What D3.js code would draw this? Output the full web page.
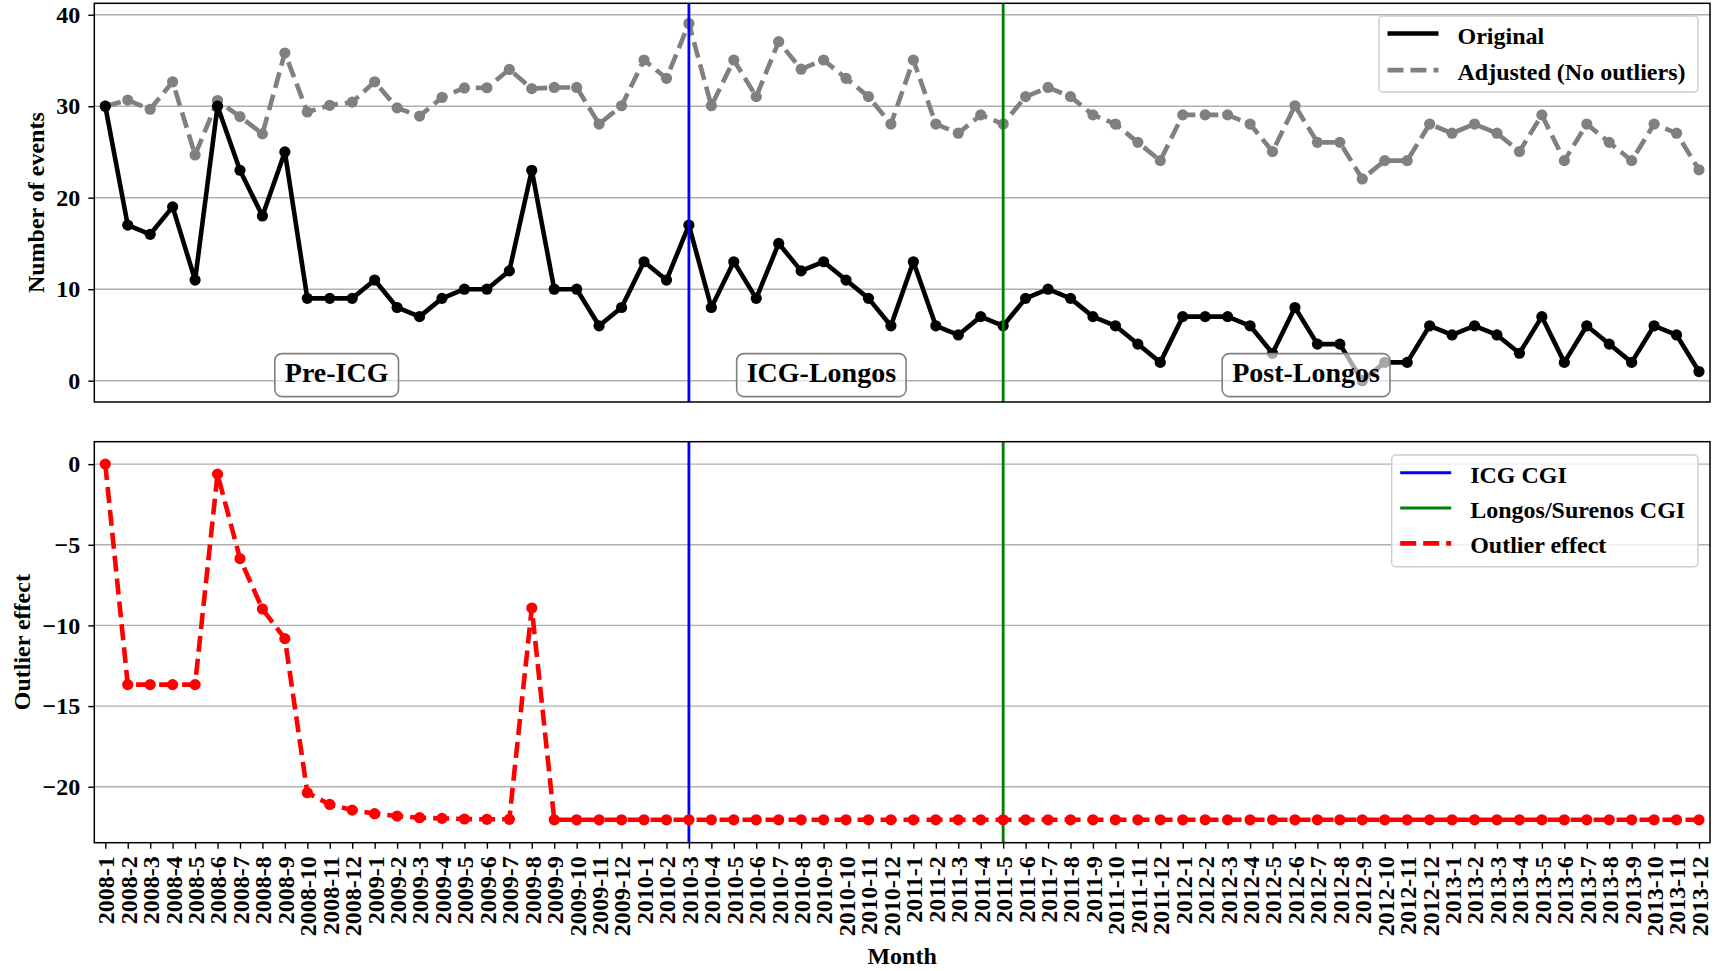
<!DOCTYPE html>
<html>
<head>
<meta charset="utf-8">
<script src="https://cdn.jsdelivr.net/npm/d3@7"></script>
<style>
  html, body { margin: 0; padding: 0; background: #ffffff; }
  svg text { font-family: "Liberation Serif", "Times New Roman", serif; font-weight: bold; fill: #000; }
</style>
</head>
<body>
<svg id="chart" width="1719" height="971"></svg>
<script>
// Monthly series, 2008-1 .. 2013-12
const months = [
  "2008-1","2008-2","2008-3","2008-4","2008-5","2008-6","2008-7","2008-8","2008-9","2008-10","2008-11","2008-12",
  "2009-1","2009-2","2009-3","2009-4","2009-5","2009-6","2009-7","2009-8","2009-9","2009-10","2009-11","2009-12",
  "2010-1","2010-2","2010-3","2010-4","2010-5","2010-6","2010-7","2010-8","2010-9","2010-10","2010-11","2010-12",
  "2011-1","2011-2","2011-3","2011-4","2011-5","2011-6","2011-7","2011-8","2011-9","2011-10","2011-11","2011-12",
  "2012-1","2012-2","2012-3","2012-4","2012-5","2012-6","2012-7","2012-8","2012-9","2012-10","2012-11","2012-12",
  "2013-1","2013-2","2013-3","2013-4","2013-5","2013-6","2013-7","2013-8","2013-9","2013-10","2013-11","2013-12"
];

const original = [
  30, 17, 16, 19, 11, 30, 23, 18, 25, 9, 9, 9,
  11, 8, 7, 9, 10, 10, 12, 23, 10, 10, 6, 8,
  13, 11, 17, 8, 13, 9, 15, 12, 13, 11, 9, 6,
  13, 6, 5, 7, 6, 9, 10, 9, 7, 6, 4, 2,
  7, 7, 7, 6, 3, 8, 4, 4, 0, 2, 2, 6,
  5, 6, 5, 3, 7, 2, 6, 4, 2, 6, 5, 1
];

const adjusted = [
  30, 30.67, 29.67, 32.67, 24.67, 30.62, 28.86, 26.98, 35.82, 29.37, 30.1, 30.45,
  32.67, 29.82, 28.92, 30.96, 32, 32.02, 34.02, 31.92, 32.05, 32.05, 28.05, 30.05,
  35.05, 33.05, 39.05, 30.05, 35.05, 31.05, 37.05, 34.05, 35.05, 33.05, 31.05, 28.05,
  35.05, 28.05, 27.05, 29.05, 28.05, 31.05, 32.05, 31.05, 29.05, 28.05, 26.05, 24.05,
  29.05, 29.05, 29.05, 28.05, 25.05, 30.05, 26.05, 26.05, 22.05, 24.05, 24.05, 28.05,
  27.05, 28.05, 27.05, 25.05, 29.05, 24.05, 28.05, 26.05, 24.05, 28.05, 27.05, 23.05
];

const outlierEffect = [
  0, -13.67, -13.67, -13.67, -13.67, -0.62, -5.86, -8.98, -10.82, -20.37, -21.1, -21.45,
  -21.67, -21.82, -21.92, -21.96, -22.0, -22.02, -22.02, -8.92, -22.05, -22.05, -22.05, -22.05,
  -22.05, -22.05, -22.05, -22.05, -22.05, -22.05, -22.05, -22.05, -22.05, -22.05, -22.05, -22.05,
  -22.05, -22.05, -22.05, -22.05, -22.05, -22.05, -22.05, -22.05, -22.05, -22.05, -22.05, -22.05,
  -22.05, -22.05, -22.05, -22.05, -22.05, -22.05, -22.05, -22.05, -22.05, -22.05, -22.05, -22.05,
  -22.05, -22.05, -22.05, -22.05, -22.05, -22.05, -22.05, -22.05, -22.05, -22.05, -22.05, -22.05
];

const eventTicks = [0, 10, 20, 30, 40];
const effectTicks = [0, -5, -10, -15, -20];

const interventions = [
  { label: "ICG CGI", month: "2010-3", color: "#0000ff" },
  { label: "Longos/Surenos CGI", month: "2011-5", color: "#008000" }
];

const periods = ["Pre-ICG", "ICG-Longos", "Post-Longos"];

// ---------- layout ----------
const svg = d3.select("#chart");
const L = 94.3, R = 1710;
const topP = { t: 3.3, b: 402 };
const botP = { t: 441.7, b: 842.7 };
const FS = 24;
const LW = 4.6;      // series line width
const MR = 5.6;      // marker radius

const x = d3.scalePoint().domain(months).range([L, R]).padding(0.49);
const yTop = d3.scaleLinear().domain([-2.33, 41.25]).range([topP.b, topP.t]);
const yBot = d3.scaleLinear().domain([-23.47, 1.39]).range([botP.b, botP.t]);

const DASH = "16,7";

function grid(g, y, ticks) {
  g.append("g").selectAll("line").data(ticks).join("line")
    .attr("x1", L).attr("x2", R)
    .attr("y1", d => y(d)).attr("y2", d => y(d))
    .attr("stroke", "#b0b0b0").attr("stroke-width", 1.4);
}

function yAxis(g, y, ticks) {
  const ax = g.append("g").attr("transform", `translate(${L},0)`)
    .call(d3.axisLeft(y).tickValues(ticks).tickSize(6).tickPadding(8).tickFormat(d3.format("d")));
  ax.select(".domain").remove();
  ax.attr("font-family", null).attr("font-size", null);
  ax.selectAll(".tick line").attr("stroke", "#000").attr("stroke-width", 1.4);
  ax.selectAll(".tick text").style("font-size", FS + "px");
}

function series(g, y, values, color, dashed) {
  const line = d3.line().x((d, i) => x(months[i])).y(d => y(d));
  g.append("path").datum(values)
    .attr("d", line)
    .attr("fill", "none")
    .attr("stroke", color)
    .attr("stroke-width", LW)
    .attr("stroke-linejoin", "round")
    .attr("stroke-dasharray", dashed ? DASH : null);
  g.append("g").selectAll("circle").data(values).join("circle")
    .attr("cx", (d, i) => x(months[i]))
    .attr("cy", d => y(d))
    .attr("r", MR)
    .attr("fill", color);
}

function vlines(g, p) {
  g.append("g").selectAll("line").data(interventions).join("line")
    .attr("x1", d => x(d.month)).attr("x2", d => x(d.month))
    .attr("y1", p.t).attr("y2", p.b)
    .attr("stroke", d => d.color).attr("stroke-width", 2.8);
}

function frame(g, p) {
  g.append("rect").attr("x", L).attr("y", p.t)
    .attr("width", R - L).attr("height", p.b - p.t)
    .attr("fill", "none").attr("stroke", "#000").attr("stroke-width", 1.5);
}

function legend(g, box, items) {
  g.append("rect").attr("x", box.x).attr("y", box.y)
    .attr("width", box.w).attr("height", box.h)
    .attr("rx", 4).attr("fill", "#fff").attr("fill-opacity", 0.8)
    .attr("stroke", "#cccccc").attr("stroke-width", 1.4);
  items.forEach((it, i) => {
    const ly = box.first + i * box.step;
    g.append("line")
      .attr("x1", box.x + 8.5).attr("x2", box.x + 59.5)
      .attr("y1", ly).attr("y2", ly)
      .attr("stroke", it.color).attr("stroke-width", it.width)
      .attr("stroke-dasharray", it.dashed ? DASH : null);
    g.append("text")
      .attr("x", box.x + 78.5).attr("y", ly + 10)
      .style("font-size", FS + "px")
      .text(it.label);
  });
}

// ---------- top panel: number of events ----------
const gTop = svg.append("g");
grid(gTop, yTop, eventTicks);
series(gTop, yTop, adjusted, "#808080", true);
series(gTop, yTop, original, "#000000", false);
vlines(gTop, topP);

// period labels in rounded boxes
const periodFrac = [0.15, 0.45, 0.75];
periods.forEach((name, i) => {
  const cx = L + periodFrac[i] * (R - L);
  const cy = topP.b - 0.07 * (topP.b - topP.t);
  const grp = gTop.append("g");
  const t = grp.append("text")
    .attr("x", cx).attr("y", cy).attr("dy", "0.27em")
    .attr("text-anchor", "middle")
    .style("font-size", "28px")
    .text(name);
  const w = t.node().getComputedTextLength();
  grp.insert("rect", "text")
    .attr("x", cx - w / 2 - 10).attr("y", cy - 20.5)
    .attr("width", w + 20).attr("height", 43)
    .attr("rx", 7)
    .attr("fill", "#fff").attr("fill-opacity", 0.65)
    .attr("stroke", "#808080").attr("stroke-width", 1.6);
});

yAxis(gTop, yTop, eventTicks);
legend(gTop, { x: 1379, y: 16, w: 319, h: 76, first: 33.5, step: 36.6 }, [
  { label: "Original", color: "#000000", width: LW, dashed: false },
  { label: "Adjusted (No outliers)", color: "#808080", width: LW, dashed: true }
]);
frame(gTop, topP);

gTop.append("text")
  .attr("transform", `translate(44,${(topP.t + topP.b) / 2}) rotate(-90)`)
  .attr("text-anchor", "middle")
  .style("font-size", FS + "px")
  .text("Number of events");

// ---------- bottom panel: outlier effect ----------
const gBot = svg.append("g");
grid(gBot, yBot, effectTicks);
vlines(gBot, botP);
series(gBot, yBot, outlierEffect, "#ff0000", true);
yAxis(gBot, yBot, effectTicks);
legend(gBot, { x: 1391.7, y: 455, w: 306.3, h: 111.7, first: 472.8, step: 35.3 }, [
  { label: "ICG CGI", color: "#0000ff", width: 3, dashed: false },
  { label: "Longos/Surenos CGI", color: "#008000", width: 3, dashed: false },
  { label: "Outlier effect", color: "#ff0000", width: LW, dashed: true }
]);
frame(gBot, botP);

// month axis
const xAx = gBot.append("g").attr("transform", `translate(0,${botP.b})`)
  .call(d3.axisBottom(x).tickSize(6));
xAx.select(".domain").remove();
xAx.attr("font-family", null).attr("font-size", null);
xAx.selectAll(".tick line").attr("stroke", "#000").attr("stroke-width", 1.4);
xAx.selectAll(".tick text")
  .attr("transform", "rotate(-90)")
  .attr("x", -13.5).attr("y", 0).attr("dy", "0.35em")
  .attr("text-anchor", "end")
  .style("font-size", FS + "px");

gBot.append("text")
  .attr("transform", `translate(30,${(botP.t + botP.b) / 2}) rotate(-90)`)
  .attr("text-anchor", "middle")
  .style("font-size", FS + "px")
  .text("Outlier effect");

svg.append("text")
  .attr("x", (L + R) / 2).attr("y", 964)
  .attr("text-anchor", "middle")
  .style("font-size", FS + "px")
  .text("Month");
</script>
</body>
</html>
